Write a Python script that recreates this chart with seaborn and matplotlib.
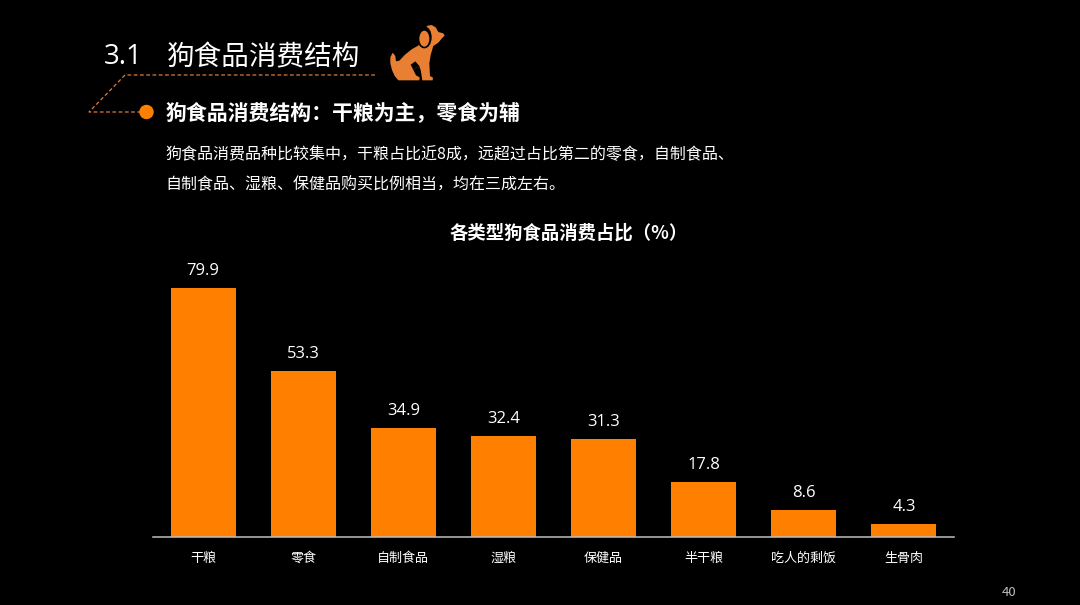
import matplotlib
matplotlib.use("Agg")
import matplotlib.pyplot as plt
from matplotlib.patches import Circle, Ellipse, Polygon
import seaborn as sns
import pandas as pd

categories = ["干粮", "零食", "自制食品", "湿粮", "保健品", "半干粮", "吃人的剩饭", "生骨肉"]
values = [79.9, 53.3, 34.9, 32.4, 31.3, 17.8, 8.6, 4.3]
section = "3.1"
title = "狗食品消费结构"
subtitle = "狗食品消费结构：干粮为主，零食为辅"
body = ["狗食品消费品种比较集中，干粮占比近8成，远超过占比第二的零食，自制食品、",
        "自制食品、湿粮、保健品购买比例相当，均在三成左右。"]
chart_title = "各类型狗食品消费占比（%）"
page = "40"

W, H = 1080, 605
ORANGE = "#FF8000"
sns.set_theme(style="dark")
plt.rcParams['font.family'] = ['Noto Sans CJK SC', 'DejaVu Sans']

fig = plt.figure(figsize=(W/100, H/100), dpi=100, facecolor="black")
ax = fig.add_axes([153/W, 1-537/H, 801/W, 277/H], facecolor="black")
df = pd.DataFrame({"cat": categories, "val": values})
sns.barplot(data=df, x="cat", y="val", color=ORANGE, saturation=1, width=0.65, linewidth=0, ax=ax)
ax.set_ylim(0, 277/3.116)
ax.set_xlim(-0.5, 7.5)
ax.set_xlabel(""); ax.set_ylabel(""); ax.set_yticks([])
ax.grid(False)
for s in ["top", "left", "right"]:
    ax.spines[s].set_visible(False)
ax.spines["bottom"].set_color("#BFBFBF")
ax.spines["bottom"].set_linewidth(1.1)
ax.tick_params(axis="x", length=0, pad=11, colors="white", labelsize=9.4)
ax.bar_label(ax.containers[0], fmt="%.1f", padding=6.5, color="white", fontsize=12,
             family=["Open Sans", "DejaVu Sans"])

ov = fig.add_axes([0, 0, 1, 1], facecolor="none")
ov.set_xlim(0, W); ov.set_ylim(H, 0); ov.axis("off")
ov.text(104, 57, section, color="white", fontsize=20, va="center", ha="left",
        family=["Open Sans", "DejaVu Sans"])
ov.text(167, 57, title, color="white", fontsize=19.9, va="center", ha="left")
ov.text(166, 113, subtitle, color="white", fontsize=15, fontweight="bold", va="center", ha="left")
ov.text(165, 155, body[0], color="white", fontsize=11.5, va="center", ha="left")
ov.text(165, 185, body[1], color="white", fontsize=11.5, va="center", ha="left")
ov.text(569, 233.5, chart_title, color="white", fontsize=13.2, fontweight="bold", va="center", ha="center")
ov.text(1009, 593, page, color="#BFBFBF", fontsize=9.5, va="center", ha="center")

dash = dict(color="#E07B39", lw=0.9, ls=(0, (3, 2)))
ov.plot([375, 125, 89, 142], [75, 75, 112, 112], **dash)
ov.add_patch(Circle((146.5, 112), 6.5, color=ORANGE, zorder=3))

# dog icon, outline traced in pixels of a 3x crop at (380, 20)
dog = "#E97F33"
def z(pts):
    return [(380 + x/3, 20 + y/3) for x, y in pts]
outline = [(38, 98), (31, 112), (31, 130), (36, 150), (44, 168), (55, 181), (118, 181), (119, 172), (108, 166),
           (100, 150), (112, 140), (122, 150), (127, 181), (158, 181), (159, 173), (150, 168), (148, 130),
           (152, 105), (160, 78), (175, 68), (185, 56), (194, 46), (190, 40), (175, 36), (167, 22), (155, 15),
           (143, 17), (130, 28), (120, 50), (116, 76), (95, 88), (75, 104), (58, 122), (48, 124), (46, 108)]
ov.add_patch(Polygon(z(outline), closed=True, color=dog, lw=0, zorder=2))
ov.add_patch(Polygon(z([(92, 134), (106, 124), (118, 138), (122, 150), (112, 140), (100, 150)]),
                     closed=True, color="black", lw=0, zorder=3))
ov.add_patch(Ellipse((380 + 133/3, 20 + 52/3), 44/3, 66/3, color="black", lw=0, zorder=3))
ov.add_patch(Ellipse((380 + 133/3, 20 + 56/3), 30/3, 48/3, color=dog, lw=0, zorder=4))

fig.savefig("out.png", dpi=100, facecolor="black")
